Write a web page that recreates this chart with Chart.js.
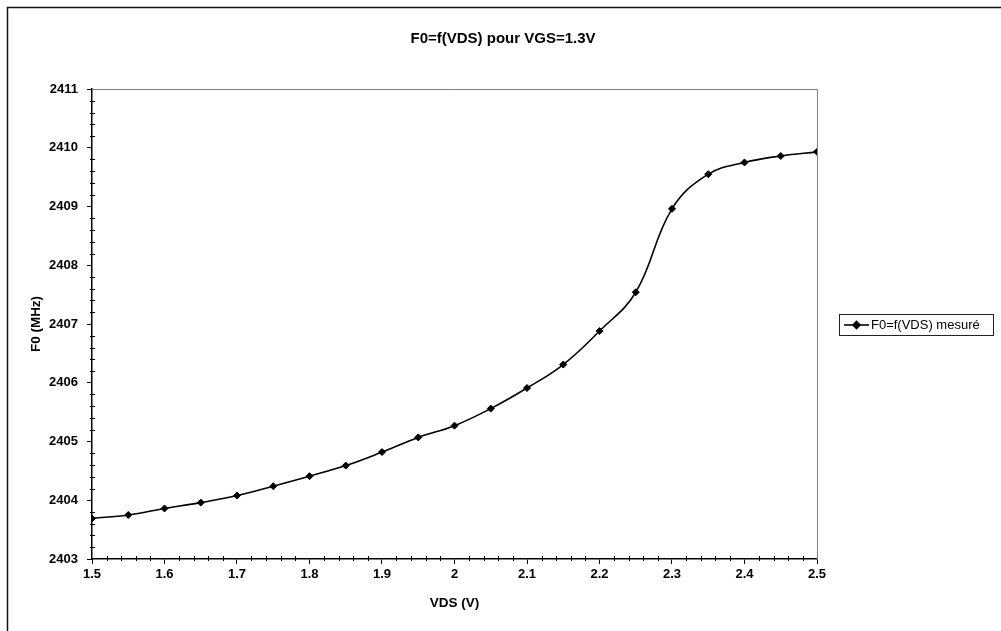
<!DOCTYPE html>
<html>
<head>
<meta charset="utf-8">
<title>F0=f(VDS) pour VGS=1.3V</title>
<script src="https://cdn.jsdelivr.net/npm/chart.js@4/dist/chart.umd.min.js"></script>
<style>
  html, body { margin: 0; padding: 0; background: #fff; }
  #wrap { width: 1001px; height: 631px; position: relative; }
</style>
</head>
<body>
<div id="wrap"><canvas id="chart"></canvas></div>
<script>
// measured points, VDS in volts, F0 in MHz
const vds = [1.5, 1.55, 1.6, 1.65, 1.7, 1.75, 1.8, 1.85, 1.9, 1.95, 2.0,
             2.05, 2.1, 2.15, 2.2, 2.25, 2.3, 2.35, 2.4, 2.45, 2.5];
const f0 = [2403.69, 2403.75, 2403.86, 2403.96, 2404.08, 2404.24, 2404.41, 2404.59, 2404.82, 2405.07, 2405.27,
            2405.56, 2405.91, 2406.31, 2406.88, 2407.54, 2408.96, 2409.55, 2409.75, 2409.86, 2409.93];

const xTicks = [1.5, 1.6, 1.7, 1.8, 1.9, 2, 2.1, 2.2, 2.3, 2.4, 2.5];
const yTicks = [2403, 2404, 2405, 2406, 2407, 2408, 2409, 2410, 2411];

const titleText = 'F0=f(VDS) pour VGS=1.3V';
const seriesName = 'F0=f(VDS) mesuré';

const FONT = '"Liberation Sans", Arial, sans-serif';

// Excel-style frame, title, plot border, minor ticks and boxed legend
const decor = {
  id: 'decor',
  beforeDraw(chart) {
    const ctx = chart.ctx;
    ctx.save();
    ctx.fillStyle = '#fff';
    ctx.fillRect(0, 0, chart.width, chart.height);
    ctx.strokeStyle = '#111';
    ctx.lineWidth = 1.5;
    ctx.strokeRect(7.5, 7.5, 1010, 640);
    ctx.restore();
  },
  afterDraw(chart) {
    const ctx = chart.ctx;
    const a = chart.chartArea;
    const xs = chart.scales.x, ys = chart.scales.y;
    ctx.save();

    ctx.fillStyle = '#000';
    ctx.font = 'bold 15px ' + FONT;
    ctx.textAlign = 'center';
    ctx.textBaseline = 'middle';
    ctx.fillText(titleText, 503, 39);

    // top and right edges of the plot area
    ctx.strokeStyle = '#808080';
    ctx.lineWidth = 1;
    ctx.beginPath();
    ctx.moveTo(a.left, a.top + 0.5);
    ctx.lineTo(a.right + 0.5, a.top + 0.5);
    ctx.lineTo(a.right + 0.5, a.bottom);
    ctx.stroke();

    // minor ticks crossing the axes
    ctx.strokeStyle = '#000';
    ctx.beginPath();
    for (let i = 0; i < yTicks.length - 1; i++) {
      for (let k = 1; k < 5; k++) {
        const y = Math.round(ys.getPixelForValue(yTicks[i] + k * 0.2)) + 0.5;
        ctx.moveTo(a.left - 2, y);
        ctx.lineTo(a.left + 3, y);
      }
    }
    for (let i = 0; i < xTicks.length - 1; i++) {
      for (let k = 1; k < 5; k++) {
        const x = Math.round(xs.getPixelForValue(xTicks[i] + k * 0.02)) + 0.5;
        ctx.moveTo(x, a.bottom - 3);
        ctx.lineTo(x, a.bottom + 2);
      }
    }
    ctx.stroke();

    // legend box
    const ds = chart.data.datasets[0];
    const lx = 839, ly = 314, lw = 154, lh = 21;
    ctx.strokeStyle = '#222';
    ctx.lineWidth = 1;
    ctx.strokeRect(lx + 0.5, ly + 0.5, lw, lh);
    const cy = ly + lh / 2 + 0.5;
    ctx.strokeStyle = ds.borderColor;
    ctx.lineWidth = ds.borderWidth;
    ctx.beginPath();
    ctx.moveTo(lx + 5, cy);
    ctx.lineTo(lx + 30, cy);
    ctx.stroke();
    Chart.helpers.drawPoint(ctx, {
      pointStyle: ds.pointStyle, radius: ds.pointRadius, borderWidth: 1
    }, lx + 17.5, cy);
    ctx.fillStyle = '#000';
    ctx.font = '13px ' + FONT;
    ctx.textAlign = 'left';
    ctx.textBaseline = 'middle';
    ctx.fillText(seriesName, lx + 32, cy);

    ctx.restore();
  }
};

new Chart(document.getElementById('chart'), {
  type: 'line',
  data: {
    datasets: [{
      label: seriesName,
      data: vds.map((v, i) => ({ x: v, y: f0[i] })),
      borderColor: '#000',
      backgroundColor: '#000',
      borderWidth: 1.6,
      tension: 0.4,
      pointStyle: 'rectRot',
      pointRadius: 3.5,
      pointBackgroundColor: '#000',
      pointBorderColor: '#000',
      pointBorderWidth: 1,
      fill: false
    }]
  },
  options: {
    responsive: true,
    maintainAspectRatio: false,
    animation: false,
    events: [],
    layout: { padding: { left: 24, right: 184, top: 89, bottom: 16 } },
    plugins: {
      legend: { display: false },
      title: { display: false },
      tooltip: { enabled: false }
    },
    scales: {
      x: {
        type: 'linear',
        min: 1.5,
        max: 2.5,
        afterBuildTicks: s => { s.ticks = xTicks.map(v => ({ value: v })); },
        afterFit: s => { s.height = 56; },
        grid: { drawOnChartArea: false, drawTicks: true, tickLength: 5, color: '#000' },
        border: { display: true, color: '#000', width: 1.5 },
        ticks: {
          color: '#000',
          padding: 3,
          maxRotation: 0,
          font: { family: FONT, size: 13, weight: 'bold' },
          callback: v => String(v)
        },
        title: {
          display: true,
          text: 'VDS (V)',
          color: '#000',
          font: { family: FONT, size: 13.5, weight: 'bold' }
        }
      },
      y: {
        min: 2403,
        max: 2411,
        afterBuildTicks: s => { s.ticks = yTicks.map(v => ({ value: v })); },
        afterFit: s => { s.width = 68; },
        grid: { drawOnChartArea: false, drawTicks: true, tickLength: 5, color: '#000' },
        border: { display: true, color: '#000', width: 1.5 },
        ticks: {
          color: '#000',
          padding: 9,
          font: { family: FONT, size: 13, weight: 'bold' },
          callback: v => String(v)
        },
        title: {
          display: true,
          text: 'F0 (MHz)',
          color: '#000',
          font: { family: FONT, size: 13.5, weight: 'bold' }
        }
      }
    }
  },
  plugins: [decor]
});
</script>
</body>
</html>
